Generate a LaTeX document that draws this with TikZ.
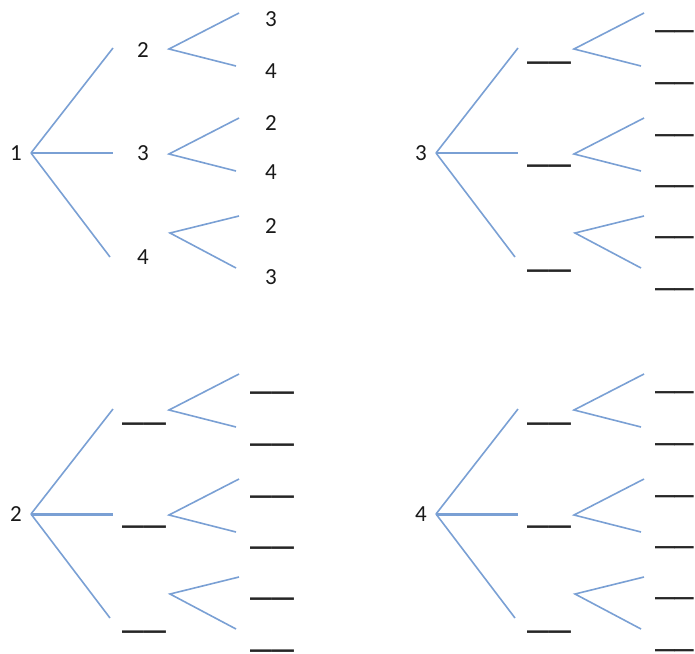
\documentclass[tikz,border=0pt]{standalone}
\usepackage{fontspec}
\setmainfont{Carlito}
\definecolor{branch}{RGB}{122,160,212}
\tikzset{
  br/.style={draw=branch, line width=1.6pt},
  lbl/.style={inner sep=0pt, font=\fontsize{23}{25}\selectfont, text=black!90},
  blank/.style={inner sep=0pt, anchor=base west, font=\fontsize{44}{46}\selectfont, text=black!85},
  edgeblank/.style={blank, font=\fontsize{39.5}{42}\selectfont}
}
\newcommand\treeframe[5]{% #1 prefix, #2 dx, #3 dy, #4 root label, #5 middle width
 \begin{scope}[shift={(#2,#3)}]
  \node[lbl] (#1r) at (16,153) {#4};
  \coordinate (#1R) at (31,153);
  \coordinate (#1A1) at (113,48);
  \coordinate (#1A2) at (113,153);
  \coordinate (#1A3) at (110,257);
  \coordinate (#1S1) at (169,49);
  \coordinate (#1S2) at (169,154);
  \coordinate (#1S3) at (170,233);
  \coordinate (#1E1) at (239,13);
  \coordinate (#1E2) at (236,66);
  \coordinate (#1E3) at (239,118);
  \coordinate (#1E4) at (236,171);
  \coordinate (#1E5) at (239,216);
  \coordinate (#1E6) at (236,268);
  \draw[br] (#1R) -- (#1A1);
  \draw[br, line width=#5] (#1R) -- (#1A2);
  \draw[br] (#1R) -- (#1A3);
  \draw[br] (#1E1) -- (#1S1) -- (#1E2);
  \draw[br] (#1E3) -- (#1S2) -- (#1E4);
  \draw[br] (#1E5) -- (#1S3) -- (#1E6);
 \end{scope}}
\newcommand\blanks[4]{% #1 prefix, #2 dx, #3 dy, #4 leaf style
 \begin{scope}[shift={(#2,#3)}]
  \node[blank] (#1b1) at (122,58) {\_\_};
  \node[blank] (#1b2) at (122,161) {\_\_};
  \node[blank] (#1b3) at (122,266) {\_\_};
  \node[#4] (#1c1) at (250,27.5) {\_\_};
  \node[#4] (#1c2) at (250,79.5) {\_\_};
  \node[#4] (#1c3) at (250,131.5) {\_\_};
  \node[#4] (#1c4) at (250,182.5) {\_\_};
  \node[#4] (#1c5) at (250,233.5) {\_\_};
  \node[#4] (#1c6) at (250,285.5) {\_\_};
 \end{scope}}
\begin{document}
\begin{tikzpicture}[x=1pt, y=-1pt]
\useasboundingbox (0,0) rectangle (695,653);
% top-left tree
\treeframe{tl}{0}{0}{1}{1.6pt}
\node[lbl] (tlb1) at (143,50) {2};
\node[lbl] (tlb2) at (143,153) {3};
\node[lbl] (tlb3) at (143,257) {4};
\node[lbl] (tlc1) at (271,19) {3};
\node[lbl] (tlc2) at (271,71) {4};
\node[lbl] (tlc3) at (271,123) {2};
\node[lbl] (tlc4) at (271,172) {4};
\node[lbl] (tlc5) at (271,226) {2};
\node[lbl] (tlc6) at (271,277) {3};
% top-right tree
\treeframe{tr}{405}{0}{3}{1.6pt}
\blanks{tr}{405}{0}{edgeblank}
% bottom-left tree
\treeframe{bl}{0}{361}{2}{3pt}
\blanks{bl}{0}{361}{blank}
% bottom-right tree
\treeframe{br}{405}{361}{4}{3pt}
\blanks{br}{405}{361}{edgeblank}
\end{tikzpicture}
\end{document}
